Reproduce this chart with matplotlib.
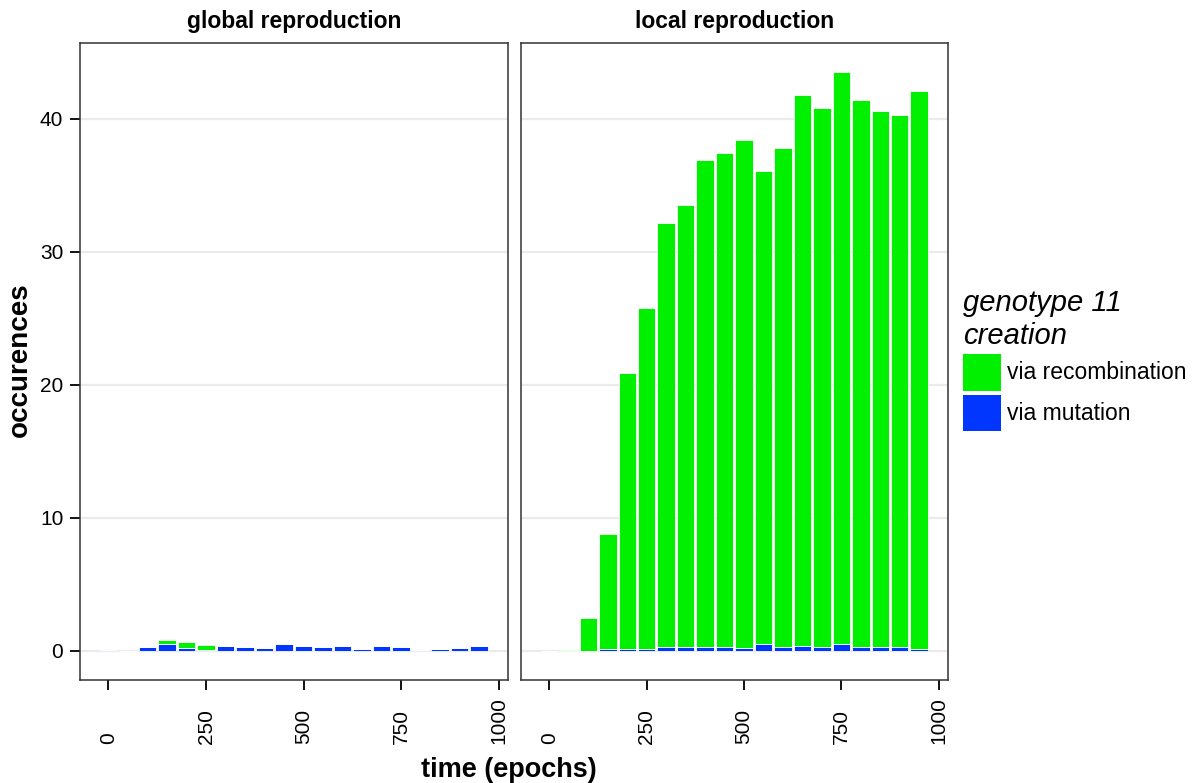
import matplotlib
matplotlib.use("Agg")
import matplotlib.pyplot as plt
import matplotlib.transforms as mtransforms
from matplotlib.patches import Patch
import numpy as np

plt.rcParams['font.family'] = ['Liberation Sans', 'DejaVu Sans']

# time bins (epochs)
epochs = np.arange(0, 1000, 50)
xtick_vals = [0, 250, 500, 750, 1000]
xtick_labels = ['0', '250', '500', '750', '1000']

# global reproduction
global_mutation = [0.05, 0.0, 0.28, 0.5, 0.2, 0.05, 0.35, 0.28, 0.2, 0.5,
                   0.38, 0.33, 0.38, 0.12, 0.38, 0.28, 0.08, 0.12, 0.2, 0.38]
global_recomb = [0.0, 0.0, 0.0, 0.3, 0.48, 0.43, 0.0, 0.0, 0.0, 0.0,
                 0.0, 0.0, 0.0, 0.0, 0.0, 0.0, 0.0, 0.0, 0.0, 0.0]

# local reproduction (totals, then mutation part)
local_total = [0.0, 0.1, 2.5, 8.8, 20.9, 25.8, 32.2, 33.5, 36.9, 37.4,
               38.4, 36.1, 37.8, 41.8, 40.8, 43.5, 41.4, 40.6, 40.3, 42.1]
local_mutation = [0.0, 0.0, 0.0, 0.12, 0.12, 0.12, 0.33, 0.33, 0.28, 0.33,
                  0.2, 0.5, 0.33, 0.38, 0.33, 0.5, 0.28, 0.33, 0.33, 0.12]
local_recomb = [t - m for t, m in zip(local_total, local_mutation)]

green = '#00f000'
blue = '#0036ff'

fig = plt.figure(figsize=(12.02, 7.83), dpi=100)
ax1 = fig.add_axes([80 / 1202, 103 / 783, 428 / 1202, 637 / 783])
ax2 = fig.add_axes([521 / 1202, 103 / 783, 427 / 1202, 637 / 783], sharey=ax1)

panels = [(ax1, "global reproduction", global_mutation, global_recomb),
          (ax2, "local reproduction", local_mutation, local_recomb)]

for ax, title, mut, rec in panels:
    ax.bar(epochs, mut, width=45, color=blue, edgecolor='white', linewidth=0.6, zorder=3)
    ax.bar(epochs, rec, width=45, bottom=mut, color=green, edgecolor='white', linewidth=0.6, zorder=3)
    ax.set_xlim(-73, 1024)
    ax.set_ylim(-2.18, 45.7)
    ax.set_xticks(xtick_vals)
    ax.set_xticklabels([])
    ax.set_yticks([0, 10, 20, 30, 40])
    ax.yaxis.grid(True, color='#ebebeb', linewidth=1.6, zorder=0)
    ax.set_axisbelow(True)
    ax.tick_params(axis='both', direction='out', length=7, width=1.3, colors='black',
                   labelsize=15, pad=5)
    for sp in ax.spines.values():
        sp.set_linewidth(1.1)
        sp.set_color('#333333')
    ax.set_title(title, fontsize=16.5, fontweight='bold', pad=10.5)

    # rotated x labels, aligned at their bottom like the original
    trans = mtransforms.blended_transform_factory(ax.transData, fig.transFigure)
    for v, lab in zip(xtick_vals, xtick_labels):
        ax.text(v, 1 - 744 / 783, lab, rotation=90, ha='center', va='bottom',
                fontsize=15, transform=trans, clip_on=False)

ax2.tick_params(axis='y', left=False, labelleft=False)

fig.text(20 / 1202, 1 - 360 / 783, "occurences", rotation=90, ha='center', va='center',
         fontsize=20, fontweight='bold')
fig.text(509 / 1202, 1 - 770 / 783, "time (epochs)", ha='center', va='center',
         fontsize=19.5, fontweight='bold')

handles = [Patch(facecolor=green, edgecolor='none', label='via recombination'),
           Patch(facecolor=blue, edgecolor='none', label='via mutation')]
leg = fig.legend(handles=handles, title="genotype 11\ncreation", loc='upper left',
                 bbox_to_anchor=(952 / 1202, 1 - 278 / 783), frameon=False,
                 fontsize=16.5, title_fontproperties={'size': 21, 'style': 'italic'},
                 handlelength=1.62, handleheight=2.1, handletextpad=0.3,
                 labelspacing=0.17, borderpad=0, alignment='left')

fig.savefig("out.png", dpi=100)
